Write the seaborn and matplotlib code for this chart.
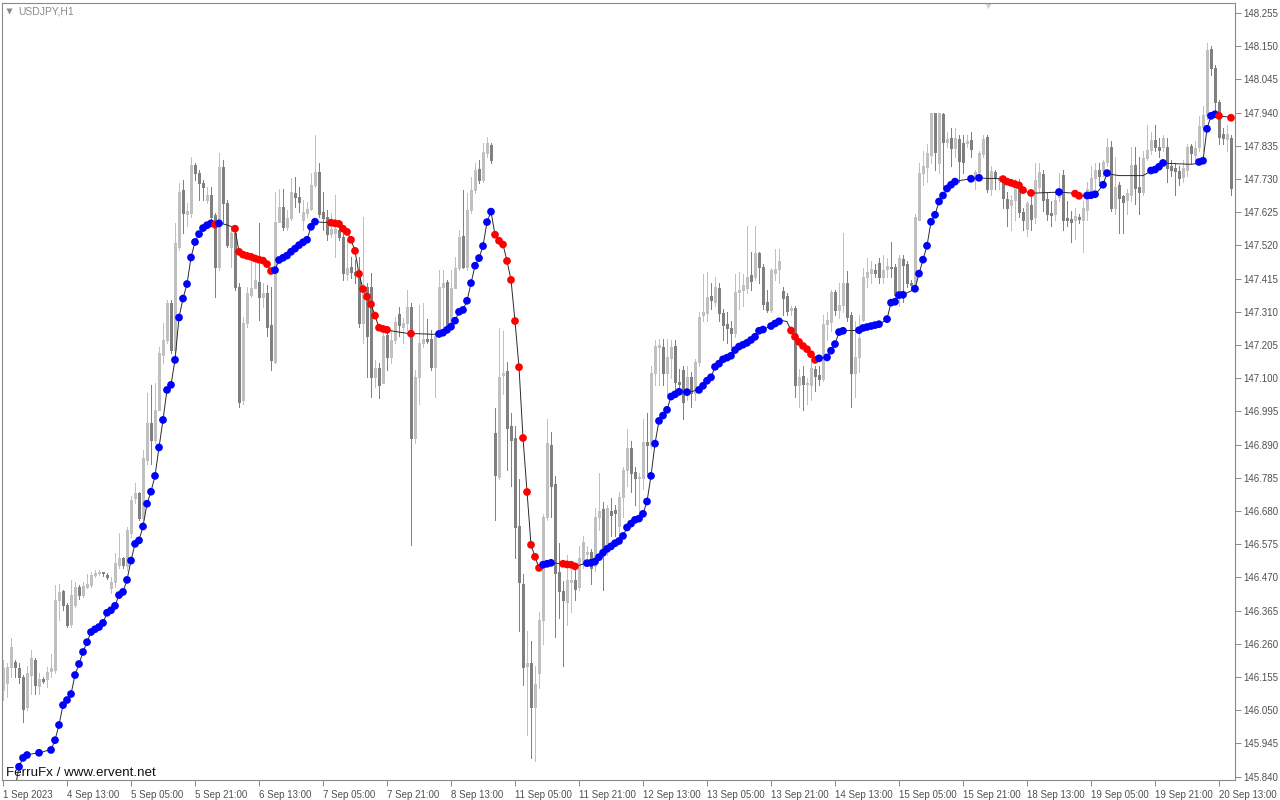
import numpy as np
import pandas as pd
import matplotlib
matplotlib.use("Agg")
import matplotlib.pyplot as plt
import seaborn as sns

# USDJPY H1 candles, bar 0 = 1 Sep 2023
opens = [
    146.113, 146.135, 146.187, 146.203, 146.182, 146.156, 146.061, 146.161, 146.210, 146.126,
    146.150, 146.147, 146.175, 146.177, 146.398, 146.426, 146.382, 146.324, 146.382, 146.440,
    146.414, 146.440, 146.445, 146.479, 146.484, 146.484, 146.477, 146.435, 146.456, 146.509,
    146.530, 146.505, 146.610, 146.720, 146.736, 146.657, 146.842, 146.958, 146.905, 147.000,
    147.174, 147.221, 147.337, 147.189, 147.516, 147.696, 147.620, 147.622, 147.775, 147.748,
    147.717, 147.664, 147.680, 147.616, 147.453, 147.769, 147.653, 147.516, 147.559, 147.390,
    147.031, 147.274, 147.363, 147.384, 147.405, 147.358, 147.369, 147.268, 147.152, 147.595,
    147.643, 147.579, 147.606, 147.687, 147.674, 147.600, 147.624, 147.635, 147.711, 147.753,
    147.627, 147.611, 147.556, 147.558, 147.569, 147.548, 147.430, 147.453, 147.437, 147.421,
    147.274, 147.390, 147.390, 147.105, 147.131, 147.084, 147.237, 147.168, 147.221, 147.302,
    147.263, 147.274, 147.326, 146.910, 147.105, 147.210, 147.223, 147.223, 147.135, 147.232,
    147.390, 147.404, 147.263, 147.384, 147.448, 147.550, 147.453, 147.632, 147.695, 147.761,
    147.727, 147.813, 147.838, 146.927, 146.789, 147.110, 147.122, 146.948, 146.910, 146.634,
    146.450, 146.190, 146.200, 146.059, 146.168, 146.335, 146.662, 146.890, 146.766, 146.488,
    146.427, 146.392, 146.456, 146.461, 146.438, 146.513, 146.545, 146.550, 146.507, 146.662,
    146.685, 146.565, 146.680, 146.683, 146.631, 146.725, 146.810, 146.878, 146.804, 146.783,
    146.783, 146.899, 146.889, 147.115, 147.200, 147.200, 147.115, 147.163, 147.202, 147.089,
    147.126, 147.057, 147.105, 147.052, 147.152, 147.300, 147.305, 147.360, 147.342, 147.384,
    147.305, 147.271, 147.258, 147.242, 147.374, 147.379, 147.384, 147.426, 147.421, 147.495,
    147.452, 147.342, 147.315, 147.434, 147.446, 147.377, 147.360, 147.315, 147.321, 147.078,
    147.107, 147.081, 147.078, 147.128, 147.110, 147.099, 147.273, 147.279, 147.373, 147.315,
    147.331, 147.402, 147.300, 147.115, 147.168, 147.284, 147.421, 147.434, 147.442, 147.464,
    147.419, 147.445, 147.453, 147.453, 147.358, 147.476, 147.461, 147.402, 147.395, 147.600,
    147.748, 147.769, 147.806, 147.938, 147.782, 147.936, 147.848, 147.859, 147.827, 147.856,
    147.845, 147.845, 147.854, 147.727, 147.753, 147.809, 147.863, 147.700, 147.753, 147.726,
    147.732, 147.668, 147.647, 147.663, 147.716, 147.626, 147.573, 147.647, 147.610, 147.705,
    147.747, 147.668, 147.623, 147.619, 147.674, 147.742, 147.608, 147.605, 147.600, 147.610,
    147.600, 147.631, 147.695, 147.732, 147.758, 147.758, 147.784, 147.833, 147.638, 147.711,
    147.675, 147.664, 147.680, 147.775, 147.706, 147.690, 147.796, 147.822, 147.854, 147.833,
    147.833, 147.833, 147.770, 147.764, 147.756, 147.736, 147.759, 147.835, 147.806, 147.833,
    147.896, 147.933, 148.140, 148.080, 147.975, 147.872, 147.856, 147.859,
]
closes = [
    146.182, 146.187, 146.250, 146.187, 146.156, 146.055, 146.166, 146.214, 146.129, 146.147,
    146.143, 146.171, 146.182, 146.398, 146.424, 146.382, 146.319, 146.414, 146.440, 146.414,
    146.442, 146.450, 146.477, 146.484, 146.485, 146.483, 146.470, 146.456, 146.514, 146.530,
    146.509, 146.620, 146.715, 146.736, 146.657, 146.847, 146.958, 146.905, 147.000, 147.179,
    147.221, 147.337, 147.189, 147.527, 147.690, 147.622, 147.630, 147.775, 147.748, 147.717,
    147.704, 147.680, 147.611, 147.453, 147.769, 147.653, 147.522, 147.559, 147.390, 147.026,
    147.274, 147.369, 147.384, 147.411, 147.358, 147.369, 147.263, 147.158, 147.595, 147.643,
    147.579, 147.606, 147.690, 147.674, 147.658, 147.627, 147.635, 147.711, 147.753, 147.621,
    147.606, 147.556, 147.571, 147.573, 147.548, 147.432, 147.448, 147.437, 147.427, 147.274,
    147.384, 147.232, 147.105, 147.131, 147.079, 147.232, 147.168, 147.221, 147.279, 147.268,
    147.274, 147.326, 146.910, 147.105, 147.210, 147.223, 147.219, 147.135, 147.232, 147.390,
    147.400, 147.263, 147.384, 147.448, 147.548, 147.453, 147.632, 147.695, 147.759, 147.727,
    147.816, 147.843, 147.790, 146.795, 147.105, 147.117, 146.944, 146.904, 146.628, 146.455,
    146.185, 146.200, 146.059, 146.133, 146.335, 146.662, 146.895, 146.760, 146.484, 146.427,
    146.398, 146.461, 146.461, 146.432, 146.530, 146.582, 146.550, 146.501, 146.662, 146.680,
    146.553, 146.688, 146.668, 146.673, 146.725, 146.810, 146.878, 146.799, 146.783, 146.787,
    146.899, 146.889, 147.115, 147.202, 147.202, 147.115, 147.168, 147.200, 147.089, 147.082,
    147.026, 147.105, 147.052, 147.152, 147.295, 147.310, 147.358, 147.347, 147.389, 147.305,
    147.268, 147.258, 147.242, 147.374, 147.379, 147.394, 147.421, 147.408, 147.495, 147.452,
    147.336, 147.315, 147.442, 147.444, 147.471, 147.355, 147.313, 147.321, 147.078, 147.105,
    147.081, 147.082, 147.131, 147.107, 147.099, 147.273, 147.284, 147.373, 147.315, 147.331,
    147.402, 147.294, 147.115, 147.168, 147.226, 147.421, 147.437, 147.445, 147.434, 147.419,
    147.442, 147.455, 147.448, 147.363, 147.479, 147.458, 147.400, 147.394, 147.609, 147.748,
    147.772, 147.811, 147.938, 147.817, 147.938, 147.848, 147.856, 147.827, 147.859, 147.787,
    147.785, 147.851, 147.824, 147.753, 147.813, 147.856, 147.700, 147.756, 147.732, 147.732,
    147.671, 147.637, 147.663, 147.716, 147.626, 147.600, 147.653, 147.605, 147.726, 147.753,
    147.663, 147.621, 147.616, 147.663, 147.695, 147.600, 147.600, 147.595, 147.612, 147.605,
    147.637, 147.700, 147.732, 147.758, 147.739, 147.784, 147.832, 147.638, 147.706, 147.669,
    147.659, 147.685, 147.775, 147.701, 147.690, 147.796, 147.822, 147.854, 147.833, 147.822,
    147.859, 147.764, 147.759, 147.754, 147.733, 147.764, 147.831, 147.812, 147.827, 147.898,
    147.933, 148.138, 148.080, 147.975, 147.864, 147.859, 147.872, 147.701,
]
highs = [
    146.208, 146.198, 146.277, 146.210, 146.200, 146.160, 146.190, 146.240, 146.214, 146.166,
    146.155, 146.187, 146.229, 146.445, 146.450, 146.430, 146.390, 146.461, 146.456, 146.446,
    146.456, 146.482, 146.488, 146.493, 146.493, 146.488, 146.484, 146.470, 146.546, 146.610,
    146.535, 146.630, 146.726, 146.768, 146.740, 146.873, 147.053, 147.079, 147.084, 147.200,
    147.274, 147.348, 147.348, 147.590, 147.717, 147.727, 147.653, 147.799, 147.780, 147.759,
    147.727, 147.706, 147.706, 147.622, 147.811, 147.790, 147.664, 147.580, 147.569, 147.400,
    147.295, 147.390, 147.485, 147.485, 147.590, 147.400, 147.395, 147.390, 147.690, 147.700,
    147.700, 147.632, 147.732, 147.737, 147.706, 147.664, 147.658, 147.748, 147.869, 147.780,
    147.690, 147.632, 147.622, 147.680, 147.600, 147.569, 147.537, 147.485, 147.474, 147.485,
    147.611, 147.400, 147.432, 147.158, 147.147, 147.263, 147.253, 147.253, 147.295, 147.326,
    147.290, 147.379, 147.337, 147.126, 147.332, 147.337, 147.286, 147.253, 147.242, 147.442,
    147.442, 147.410, 147.442, 147.485, 147.569, 147.695, 147.685, 147.737, 147.780, 147.790,
    147.843, 147.864, 147.843, 147.007, 147.260, 147.250, 147.150, 146.990, 146.950, 146.780,
    146.480, 146.300, 146.270, 146.190, 146.360, 146.670, 146.970, 146.930, 146.790, 146.580,
    146.460, 146.540, 146.520, 146.500, 146.570, 146.600, 146.570, 146.560, 146.690, 146.800,
    146.710, 146.700, 146.720, 146.700, 146.740, 146.820, 146.940, 146.900, 146.820, 146.800,
    146.970, 146.990, 147.140, 147.220, 147.225, 147.225, 147.225, 147.220, 147.220, 147.130,
    147.140, 147.140, 147.120, 147.160, 147.310, 147.430, 147.437, 147.400, 147.420, 147.400,
    147.320, 147.310, 147.280, 147.430, 147.435, 147.430, 147.580, 147.500, 147.580, 147.500,
    147.460, 147.380, 147.450, 147.510, 147.510, 147.390, 147.370, 147.330, 147.330, 147.130,
    147.140, 147.100, 147.150, 147.140, 147.140, 147.300, 147.310, 147.380, 147.380, 147.400,
    147.560, 147.440, 147.310, 147.280, 147.300, 147.450, 147.480, 147.470, 147.460, 147.480,
    147.490, 147.480, 147.530, 147.460, 147.490, 147.490, 147.470, 147.410, 147.620, 147.780,
    147.820, 147.840, 147.940, 147.940, 147.940, 147.940, 147.880, 147.890, 147.890, 147.870,
    147.870, 147.870, 147.880, 147.760, 147.820, 147.870, 147.870, 147.770, 147.760, 147.740,
    147.740, 147.690, 147.680, 147.730, 147.730, 147.640, 147.660, 147.700, 147.780, 147.780,
    147.760, 147.690, 147.660, 147.690, 147.750, 147.760, 147.660, 147.630, 147.640, 147.620,
    147.660, 147.720, 147.770, 147.780, 147.780, 147.790, 147.860, 147.850, 147.800, 147.720,
    147.680, 147.700, 147.830, 147.830, 147.800, 147.820, 147.900, 147.880, 147.900, 147.860,
    147.870, 147.860, 147.790, 147.780, 147.770, 147.790, 147.840, 147.840, 147.850, 147.930,
    147.960, 148.160, 148.150, 148.090, 147.980, 147.890, 147.900, 147.870,
]
lows = [
    146.082, 146.090, 146.156, 146.156, 146.135, 146.013, 146.050, 146.100, 146.100, 146.100,
    146.135, 146.124, 146.156, 146.166, 146.335, 146.366, 146.314, 146.314, 146.377, 146.403,
    146.409, 146.435, 146.440, 146.472, 146.477, 146.474, 146.466, 146.420, 146.440, 146.500,
    146.500, 146.494, 146.599, 146.705, 146.650, 146.650, 146.830, 146.830, 146.895, 147.000,
    147.147, 147.210, 147.179, 147.179, 147.506, 147.558, 147.580, 147.610, 147.727, 147.664,
    147.664, 147.653, 147.595, 147.358, 147.443, 147.590, 147.516, 147.453, 147.379, 147.010,
    147.020, 147.263, 147.358, 147.390, 147.284, 147.326, 147.232, 147.126, 147.147, 147.595,
    147.569, 147.569, 147.600, 147.643, 147.627, 147.569, 147.611, 147.632, 147.706, 147.611,
    147.569, 147.537, 147.548, 147.485, 147.537, 147.411, 147.411, 147.416, 147.400, 147.263,
    147.210, 147.105, 147.042, 147.073, 147.037, 147.084, 147.126, 147.147, 147.210, 147.232,
    147.210, 147.253, 146.573, 146.894, 147.020, 147.200, 147.210, 147.126, 147.042, 147.232,
    147.242, 147.253, 147.253, 147.384, 147.442, 147.448, 147.442, 147.622, 147.685, 147.716,
    147.722, 147.800, 147.780, 146.651, 146.780, 147.050, 146.810, 146.760, 146.530, 146.300,
    146.130, 145.970, 145.900, 145.890, 146.120, 146.260, 146.650, 146.660, 146.280, 146.340,
    146.190, 146.320, 146.360, 146.400, 146.430, 146.500, 146.520, 146.450, 146.490, 146.620,
    146.430, 146.540, 146.600, 146.600, 146.580, 146.660, 146.760, 146.740, 146.700, 146.660,
    146.750, 146.800, 146.880, 147.080, 147.080, 147.080, 147.050, 147.100, 147.050, 147.050,
    146.970, 147.030, 147.010, 147.030, 147.140, 147.280, 147.280, 147.320, 147.330, 147.280,
    147.220, 147.210, 147.200, 147.230, 147.320, 147.330, 147.370, 147.380, 147.410, 147.400,
    147.320, 147.310, 147.310, 147.410, 147.400, 147.300, 147.300, 147.300, 147.040, 147.010,
    147.000, 147.020, 147.030, 147.060, 147.080, 147.090, 147.220, 147.250, 147.300, 147.290,
    147.310, 147.280, 147.010, 147.040, 147.120, 147.280, 147.390, 147.400, 147.420, 147.400,
    147.400, 147.420, 147.420, 147.340, 147.330, 147.340, 147.390, 147.380, 147.390, 147.600,
    147.710, 147.720, 147.780, 147.760, 147.750, 147.700, 147.830, 147.770, 147.800, 147.720,
    147.750, 147.830, 147.800, 147.700, 147.740, 147.800, 147.690, 147.680, 147.700, 147.700,
    147.640, 147.580, 147.570, 147.600, 147.610, 147.570, 147.550, 147.570, 147.590, 147.690,
    147.630, 147.600, 147.580, 147.600, 147.660, 147.570, 147.580, 147.530, 147.540, 147.590,
    147.500, 147.600, 147.680, 147.700, 147.720, 147.740, 147.770, 147.630, 147.620, 147.560,
    147.560, 147.620, 147.660, 147.650, 147.620, 147.680, 147.790, 147.810, 147.820, 147.800,
    147.820, 147.720, 147.740, 147.680, 147.710, 147.720, 147.740, 147.780, 147.790, 147.820,
    147.820, 147.920, 148.060, 147.950, 147.840, 147.840, 147.820, 147.680,
]

# trend indicator line (NaN before it starts)
trend = [
    np.nan, np.nan, np.nan, 145.800, 145.871, 145.899, 145.908, 145.911, 145.913, 145.915,
    145.918, 145.922, 145.924, 145.955, 146.003, 146.066, 146.082, 146.101, 146.161, 146.196,
    146.234, 146.265, 146.297, 146.306, 146.313, 146.326, 146.358, 146.366, 146.380, 146.414,
    146.424, 146.462, 146.523, 146.576, 146.587, 146.631, 146.703, 146.741, 146.791, 146.881,
    146.968, 147.063, 147.079, 147.158, 147.292, 147.352, 147.398, 147.482, 147.531, 147.556,
    147.575, 147.584, 147.590, 147.586, 147.590, 147.588, 147.585, 147.580, 147.573, 147.500,
    147.491, 147.487, 147.484, 147.479, 147.475, 147.472, 147.461, 147.439, 147.442, 147.474,
    147.481, 147.488, 147.500, 147.510, 147.521, 147.530, 147.538, 147.579, 147.595, 147.594,
    147.593, 147.593, 147.592, 147.590, 147.588, 147.573, 147.563, 147.538, 147.503, 147.430,
    147.382, 147.358, 147.334, 147.298, 147.260, 147.256, 147.253, 147.250, 147.248, 147.246,
    147.244, 147.242, 147.241, 147.241, 147.241, 147.240, 147.240, 147.239, 147.239, 147.240,
    147.244, 147.253, 147.263, 147.282, 147.310, 147.316, 147.345, 147.401, 147.456, 147.480,
    147.518, 147.594, 147.627, 147.554, 147.535, 147.523, 147.471, 147.411, 147.281, 147.135,
    146.911, 146.740, 146.573, 146.535, 146.500, 146.510, 146.513, 146.516, 146.515, 146.514,
    146.513, 146.511, 146.510, 146.505, 146.508, 146.512, 146.515, 146.516, 146.520, 146.534,
    146.548, 146.560, 146.568, 146.578, 146.585, 146.601, 146.628, 146.640, 146.652, 146.656,
    146.671, 146.710, 146.791, 146.893, 146.965, 146.982, 147.000, 147.042, 147.049, 147.057,
    147.057, 147.056, 147.057, 147.061, 147.063, 147.076, 147.092, 147.103, 147.136, 147.146,
    147.160, 147.165, 147.171, 147.189, 147.200, 147.206, 147.212, 147.221, 147.231, 147.250,
    147.254, 147.260, 147.265, 147.273, 147.280, 147.282, 147.279, 147.251, 147.231, 147.215,
    147.202, 147.192, 147.176, 147.158, 147.163, 147.164, 147.166, 147.187, 147.208, 147.246,
    147.250, 147.251, 147.251, 147.251, 147.252, 147.259, 147.262, 147.265, 147.268, 147.271,
    147.278, 147.287, 147.339, 147.342, 147.363, 147.364, 147.370, 147.376, 147.383, 147.431,
    147.475, 147.519, 147.595, 147.617, 147.659, 147.678, 147.700, 147.712, 147.722, 147.725,
    147.727, 147.729, 147.731, 147.732, 147.734, 147.733, 147.732, 147.732, 147.732, 147.731,
    147.730, 147.722, 147.718, 147.714, 147.710, 147.695, 147.689, 147.686, 147.686, 147.686,
    147.687, 147.687, 147.688, 147.688, 147.689, 147.688, 147.687, 147.686, 147.684, 147.677,
    147.677, 147.678, 147.679, 147.682, 147.695, 147.712, 147.749, 147.745, 147.743, 147.741,
    147.741, 147.741, 147.741, 147.741, 147.741, 147.741, 147.748, 147.757, 147.760, 147.769,
    147.781, 147.780, 147.779, 147.779, 147.778, 147.778, 147.777, 147.777, 147.778, 147.784,
    147.788, 147.889, 147.930, 147.935, 147.930, 147.928, 147.927, 147.924,
]

# dot markers along the line, as runs: b = blue (up), r = red (down), . = no dot
dot_runs = [
    (".", 4), ("b", 3), (".", 2), ("b", 1), (".", 2), ("b", 41), ("r", 1), ("b", 1),
    (".", 3), ("r", 10), ("b", 11), (".", 3), ("r", 15), (".", 5), ("r", 1), (".", 6),
    ("b", 14), ("r", 12), ("b", 3), (".", 2), ("r", 4), (".", 2), ("b", 24), (".", 1),
    ("b", 1), (".", 2), ("b", 17), (".", 1), ("b", 3), (".", 2), ("r", 7), ("b", 1),
    (".", 1), ("b", 5), (".", 3), ("b", 6), (".", 1), ("b", 5), (".", 2), ("b", 11),
    (".", 3), ("b", 1), (".", 1), ("b", 1), (".", 5), ("r", 6), (".", 1), ("r", 1),
    (".", 6), ("b", 1), (".", 3), ("r", 2), (".", 1), ("b", 3), (".", 1), ("b", 2),
    (".", 10), ("b", 4), (".", 8), ("b", 5), ("r", 1), (".", 2), ("r", 1),
]

y_ticks = [148.255, 148.150, 148.045, 147.940, 147.835, 147.730, 147.625, 147.520,
           147.415, 147.310, 147.205, 147.100, 146.995, 146.890, 146.785, 146.680,
           146.575, 146.470, 146.365, 146.260, 146.155, 146.050, 145.945, 145.840]
x_labels = ["1 Sep 2023", "4 Sep 13:00", "5 Sep 05:00", "5 Sep 21:00", "6 Sep 13:00",
            "7 Sep 05:00", "7 Sep 21:00", "8 Sep 13:00", "11 Sep 05:00", "11 Sep 21:00",
            "12 Sep 13:00", "13 Sep 05:00", "13 Sep 21:00", "14 Sep 13:00", "15 Sep 05:00",
            "15 Sep 21:00", "18 Sep 13:00", "19 Sep 05:00", "19 Sep 21:00", "20 Sep 13:00"]

# ---- build frames
o = np.array(opens)
c = np.array(closes)
h = np.maximum(np.array(highs), np.maximum(o, c))
l = np.minimum(np.array(lows), np.minimum(o, c))
bars = np.arange(len(o))
colors = np.where(c >= o, "#c0c0c0", "#808080")
body_lo = np.minimum(o, c)
body_hi = np.maximum(np.maximum(o, c), body_lo + 0.004)

marks = "".join(k * n for k, n in dot_runs)
line = pd.DataFrame({"bar": bars, "value": trend, "mark": list(marks)})
dots = line[line["mark"] != "."].copy()
dots["dir"] = dots["mark"].map({"b": "up", "r": "down"})

# ---- plot
sns.set_style("white")
plt.rcParams["font.family"] = ["Liberation Sans", "DejaVu Sans"]

fig = plt.figure(figsize=(12.8, 8), dpi=100)
ax = fig.add_axes([2 / 1280, 20 / 800, 1233 / 1280, 777 / 800])

# wicks (1 px) and bodies (3 px)
ax.vlines(bars, l, h, colors=colors, linewidth=0.72, antialiased=False, zorder=1)
ax.vlines(bars, body_lo, body_hi, colors=colors, linewidth=2.16,
          antialiased=False, capstyle="butt", zorder=2)

sns.lineplot(data=line.dropna(), x="bar", y="value", color="#2a2a2a",
             linewidth=0.7, ax=ax, zorder=3)
sns.scatterplot(data=dots, x="bar", y="value", hue="dir",
                palette={"up": "#0000ff", "down": "#ff0000"},
                s=31, linewidth=0, legend=False, ax=ax, zorder=4)

ax.set_xlim(-0.25, 308)
ax.set_ylim(145.829, 148.287)
ax.set_xlabel("")
ax.set_ylabel("")

ax.yaxis.tick_right()
ax.set_yticks(y_ticks)
ax.set_yticklabels([f"{v:.3f}" for v in y_ticks])
ax.set_xticks(range(0, 16 * len(x_labels), 16))
ax.set_xticklabels(x_labels, ha="left")
ax.tick_params(axis="both", direction="out", length=4, width=0.7, color="#8a8a8a",
               labelsize=7, labelcolor="#505050", pad=2)
ax.tick_params(axis="y", right=True, left=False, labelright=True, labelleft=False)
ax.tick_params(axis="x", bottom=True, pad=3)

for s in ax.spines.values():
    s.set_color("#8a8a8a")
    s.set_linewidth(0.8)

# header, shift marker and watermark
ax.plot([0.0057], [0.9897], marker="v", ms=4.5, color="#8a8a8a", mec="none",
        transform=ax.transAxes, clip_on=False)
ax.text(0.013, 0.9897, "USDJPY,H1", transform=ax.transAxes, va="center", ha="left",
        fontsize=7.5, color="#8a8a8a")
ax.plot([246.2], [0.996], marker="v", ms=5, color="#d4d4d4", mec="none",
        transform=ax.get_xaxis_transform(), clip_on=False)
ax.text(0.0035, 0.001, "FerruFx / www.ervent.net", transform=ax.transAxes,
        va="bottom", ha="left", fontsize=9.6, color="#111111")

fig.savefig("out.png", dpi=100, facecolor="white")
